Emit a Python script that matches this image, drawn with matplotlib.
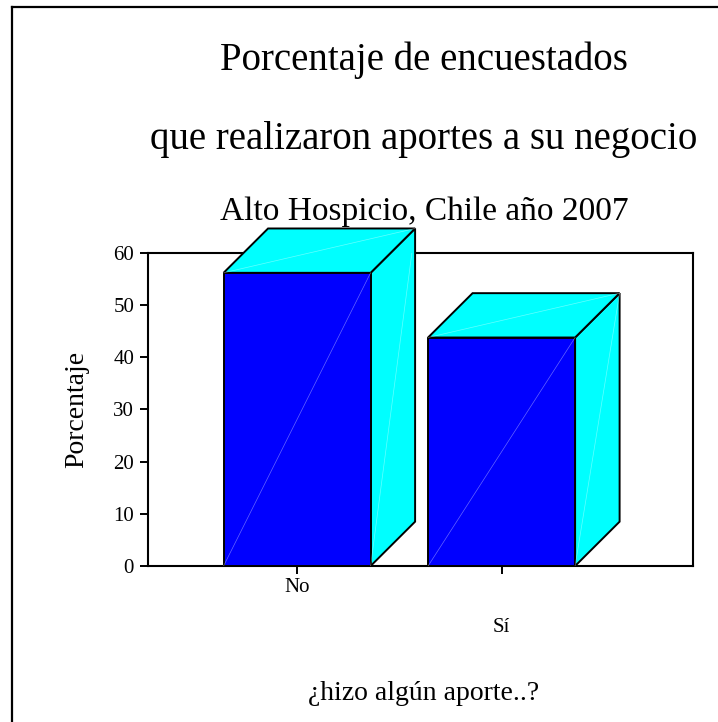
import numpy as np
import matplotlib
matplotlib.use("Agg")
import matplotlib.pyplot as plt
from matplotlib.patches import Polygon
from matplotlib.lines import Line2D

plt.rcParams['font.family'] = ['Liberation Serif', 'DejaVu Serif']

# data
categories = ['No', 'Sí']
porcentajes = [56.2, 43.8]
y_ticks = [0, 10, 20, 30, 40, 50, 60]

front_color = '#0000ff'
side_color = '#00ffff'
bar_width = 0.719
depth_x = 0.2176
depth_y = 8.5

fig = plt.figure(figsize=(7.18, 7.22), dpi=100)
ax = fig.add_axes([148 / 718, 1 - 566 / 722, 545 / 718, 313 / 722])

x = np.arange(len(categories))
for xi, h in zip(x, porcentajes):
    x0 = xi - bar_width / 2
    x1 = xi + bar_width / 2
    side = Polygon([(x1, 0), (x1 + depth_x, depth_y), (x1 + depth_x, h + depth_y), (x1, h)],
                   closed=True, facecolor=side_color, edgecolor='black', lw=1.4,
                   zorder=4, clip_on=False, joinstyle='miter')
    top = Polygon([(x0, h), (x0 + depth_x, h + depth_y), (x1 + depth_x, h + depth_y), (x1, h)],
                  closed=True, facecolor=side_color, edgecolor='black', lw=1.4,
                  zorder=4, clip_on=False, joinstyle='miter')
    ax.add_patch(side)
    ax.add_patch(top)
    ax.bar(xi, h, width=bar_width, color=front_color, edgecolor='black', lw=1.4, zorder=5)
    # faint white diagonals seen on each face
    ax.plot([x0, x1], [0, h], color='white', lw=0.5, alpha=0.4, zorder=6)
    ax.plot([x1, x1 + depth_x], [0, h + depth_y], color='white', lw=0.5, alpha=0.4, zorder=6)
    ax.plot([x0, x1 + depth_x], [h, h + depth_y], color='white', lw=0.5, alpha=0.4, zorder=6, clip_on=False)

ax.set_xlim(-0.729, 1.936)
ax.set_ylim(0, 60)
ax.set_yticks(y_ticks)
ax.set_yticklabels([str(t) for t in y_ticks], fontsize=15)
ax.set_xticks(x)
ax.set_xticklabels([])
ax.tick_params(axis='both', direction='out', length=6, width=1.4, color='black')
ax.tick_params(axis='y', pad=4)
for s in ax.spines.values():
    s.set_linewidth(1.5)
    s.set_zorder(2)

# staggered category labels
offsets = [-22, -61]
for xi, lab, off in zip(x, categories, offsets):
    ax.annotate(lab, xy=(xi, 0), xycoords=('data', 'axes fraction'),
                xytext=(0, off), textcoords='offset pixels',
                ha='center', va='center', fontsize=15)

ax.set_ylabel('Porcentaje', fontsize=20, labelpad=17)
fig.text(424 / 718, 1 - 693 / 722, '¿hizo algún aporte..?', ha='center', va='center', fontsize=20)

fig.text(424 / 718, 1 - 60 / 722, 'Porcentaje de encuestados', ha='center', va='center', fontsize=28)
fig.text(424 / 718, 1 - 139 / 722, 'que realizaron aportes a su negocio', ha='center', va='center', fontsize=28)
fig.text(424 / 718, 1 - 212 / 722, 'Alto Hospicio, Chile año 2007', ha='center', va='center', fontsize=24)

# outer frame (left and top edges)
fig.add_artist(Line2D([11.5 / 718, 11.5 / 718], [0, 1 - 7 / 722], color='black', lw=1.6,
                      transform=fig.transFigure))
fig.add_artist(Line2D([11.5 / 718, 1], [1 - 7 / 722, 1 - 7 / 722], color='black', lw=1.6,
                      transform=fig.transFigure))

fig.savefig('out.png', dpi=100)
